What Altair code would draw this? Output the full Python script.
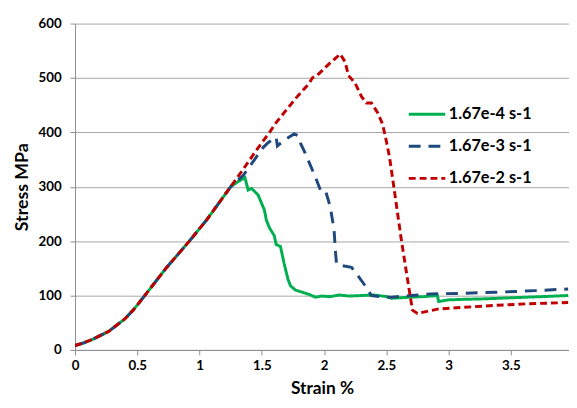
import altair as alt
import pandas as pd

series_names = ["1.67e-4 s-1", "1.67e-3 s-1", "1.67e-2 s-1"]
colors = ["#00B050", "#1F497D", "#C00000"]
dashes = [[1, 0], [12, 8], [7, 4]]

# shared elastic loading part
common_strain = [0.0, 0.07, 0.137, 0.27, 0.40, 0.47, 0.55, 0.73, 0.918, 1.06, 1.25]
common_stress = [8, 13, 19, 34, 57, 74, 97, 150, 200, 240, 300]

green_strain = [1.30, 1.364, 1.39, 1.417, 1.47, 1.51, 1.52, 1.536, 1.56, 1.60, 1.615, 1.65,
                1.68, 1.71, 1.73, 1.77, 1.84, 1.88, 1.93, 1.98, 2.05, 2.12, 2.2, 2.3, 2.4,
                2.5, 2.54, 2.62, 2.7, 2.8, 2.91, 2.92, 3.0, 3.12, 3.3, 3.52, 3.75, 3.96]
green_stress = [308, 317, 294, 297, 285, 263, 258, 239, 225, 210, 194, 190,
                158, 130, 118, 110, 105, 102, 97, 99, 98, 101, 99, 100, 101,
                98, 95, 96, 97, 98, 100, 89, 92, 93, 94, 96, 98, 100]

blue_strain = [1.351, 1.417, 1.51, 1.55, 1.615, 1.625, 1.64, 1.69, 1.76, 1.79, 1.81, 1.84,
               1.87, 1.93, 1.97, 2.01, 2.05, 2.08, 2.09, 2.10, 2.14, 2.22, 2.27, 2.33,
               2.38, 2.45, 2.54, 2.7, 2.86, 3.1, 3.38, 3.7, 3.96]
blue_stress = [321, 342, 372, 381, 391, 375, 378, 387, 397, 394, 380, 366,
               350, 318, 294, 294, 263, 221, 185, 158, 155, 152, 137, 118,
               100, 98, 97, 100, 103, 104, 106, 109, 112]

red_strain = [1.35, 1.45, 1.562, 1.615, 1.774, 1.88, 1.905, 1.96, 2.04, 2.10, 2.13, 2.17,
              2.195, 2.25, 2.30, 2.34, 2.38, 2.43, 2.47, 2.50, 2.526, 2.56, 2.62, 2.67,
              2.71, 2.75, 2.91, 3.1, 3.38, 3.65, 3.96]
red_stress = [332, 365, 400, 418, 463, 490, 500, 508, 526, 538, 544, 529,
              505, 490, 466, 454, 454, 436, 415, 384, 354, 300, 203, 130,
              73, 67, 75, 78, 82, 85, 87]

x_ticks = [0, 0.5, 1, 1.5, 2, 2.5, 3, 3.5]
y_ticks = [0, 100, 200, 300, 400, 500, 600]

rows = []
for name, xs, ys in [
    (series_names[0], green_strain, green_stress),
    (series_names[1], blue_strain, blue_stress),
    (series_names[2], red_strain, red_stress),
]:
    allx = common_strain + xs
    ally = common_stress + ys
    for i, (xv, yv) in enumerate(zip(allx, ally)):
        rows.append({"series": name, "strain": xv, "stress": yv, "order": i})
df = pd.DataFrame(rows)

FONT = "Lato"

x_enc = alt.X("strain:Q",
              scale=alt.Scale(domain=[0, 3.967], nice=False, zero=False),
              axis=alt.Axis(values=x_ticks, format="~g", title="Strain %", grid=False,
                            tickSize=5, labelPadding=4, titlePadding=8,
                            titleFontSize=17.5, labelFlush=False))
y_enc = alt.Y("stress:Q",
              scale=alt.Scale(domain=[0, 600], nice=False),
              axis=alt.Axis(values=y_ticks, title="Stress MPa", grid=True,
                            tickSize=5, labelPadding=9, titlePadding=7))

legend_kw = dict(orient="none", legendX=337, legendY=82,
                 title=None, symbolType="stroke",
                 symbolSize=1369, symbolStrokeWidth=3,
                 labelFont=FONT, labelFontSize=16.5,
                 labelFontWeight="bold", labelColor="black",
                 rowPadding=12.5, padding=0, labelOffset=2,
                 clipHeight=20)
color_enc = alt.Color("series:N",
                      scale=alt.Scale(domain=series_names, range=colors),
                      legend=alt.Legend(**legend_kw))
dash_enc = alt.StrokeDash("series:N",
                          scale=alt.Scale(domain=series_names, range=dashes),
                          legend=alt.Legend(**legend_kw))

layers = []
for name in series_names:
    layers.append(
        alt.Chart(df)
        .transform_filter(alt.datum.series == name)
        .mark_line(strokeWidth=3, clip=True)
        .encode(x=x_enc, y=y_enc, color=color_enc, strokeDash=dash_enc,
                order="order:Q")
    )

chart = (
    alt.layer(*layers)
    .properties(width=501, height=331,
                autosize=alt.AutoSizeParams(type="none"),
                padding={"left": 68, "top": 13, "right": 0, "bottom": 48})
    .configure_view(stroke=None)
    .configure_axis(labelFont=FONT, labelFontSize=13.5, labelFontWeight="bold",
                    labelColor="black", titleFont=FONT, titleFontSize=18,
                    titleFontWeight="bold", titleColor="black",
                    domainColor="#8c8c8c", tickColor="#8c8c8c",
                    gridColor="#a6a6a6", gridWidth=1)
)

chart.save("out.html", embed_options={"renderer": "svg", "actions": False})
